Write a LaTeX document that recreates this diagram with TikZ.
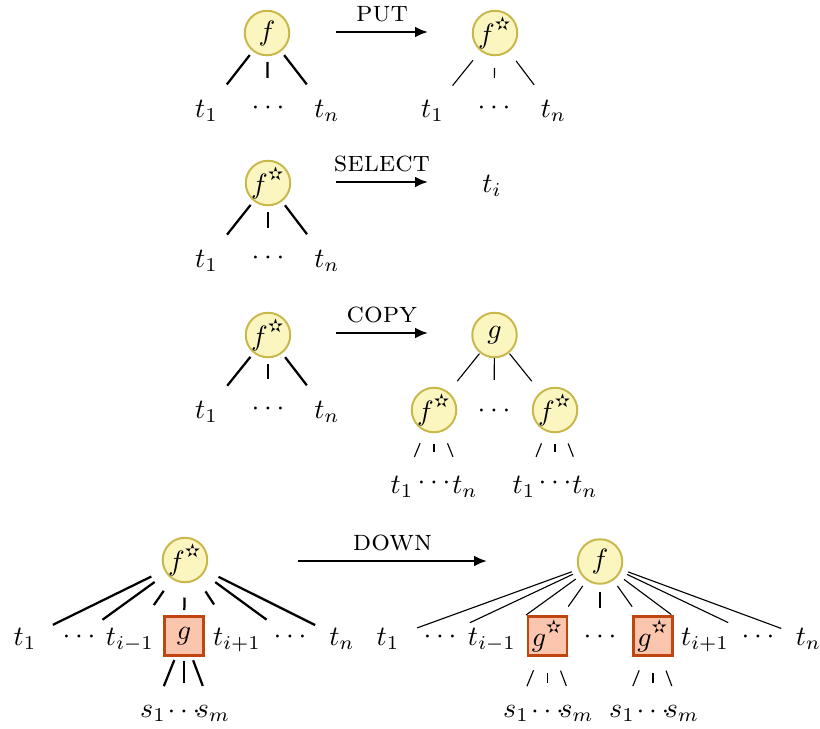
\documentclass[tikz,border=0pt]{standalone}
\usepackage{fontspec}
\usetikzlibrary{calc,arrows.meta}
\newfontfamily\starfont{DejaVu Sans}
\newcommand\st{\mbox{\raisebox{0.8pt}{\starfont\fontsize{6.6}{7}\selectfont ✫}}}
\newcommand\cc[1]{\makebox[0pt]{#1}}
\definecolor{cfill}{HTML}{FBF5C0}
\definecolor{cdraw}{HTML}{C8B84C}
\definecolor{bfill}{HTML}{FCC6AE}
\definecolor{bdraw}{HTML}{C0450E}
\newcommand\tedge[5][]{\draw[#1] ($(#2)!#4*0.3571pt!(#3)$) -- ($(#3)!#5*0.3571pt!(#2)$);}
\tikzset{
  cn/.style={circle, draw=cdraw, fill=cfill, line width=0.7pt, minimum size=15.9pt, inner sep=0.5pt},
  bx/.style={rectangle, draw=bdraw, fill=bfill, line width=0.8pt, minimum width=14pt, minimum height=14pt, inner sep=1pt},
  lab/.style={anchor=base, inner sep=0pt},
  arr/.style={line width=0.95pt, -{Latex[length=4.6pt,width=3.9pt]}},
  oplab/.style={above, inner sep=3pt, font=\fontsize{10.5}{12}\selectfont}
}
\begin{document}
\begin{tikzpicture}[x=0.3571pt,y=-0.3571pt]
\useasboundingbox (0,0) rectangle (820,728);

% ---------- Row 1: PUT ----------
\node[cn] (a1) at (267,33) {\cc{$f$}};
\node[lab] (a1t1) at (206.5,117) {$t_1$};
\node[lab] (a1d) at (268,114) {$\cdots$};
\node[lab] (a1tn) at (327,117) {$t_n$};
\tedge[thick]{a1}{a1t1}{28}{33}
\tedge[thick]{a1}{a1d}{29}{30}
\tedge[thick]{a1}{a1tn}{28}{33}

\coordinate (p1s) at (336,32);
\coordinate (p1e) at (428,32);
\draw[arr] (p1s) -- node[oplab] (putl) {\textsc{put}} (p1e);

\node[cn] (b1) at (495,33) {\cc{$f^{\st}$}};
\node[lab] (b1t1) at (432.5,117) {$t_1$};
\node[lab] (b1d) at (494,114) {$\cdots$};
\node[lab] (b1tn) at (553.5,117) {$t_n$};
\tedge{b1}{b1t1}{35}{32}
\tedge{b1}{b1d}{35}{30}
\tedge{b1}{b1tn}{35}{32}

% ---------- Row 2: SELECT ----------
\node[cn] (a2) at (268,183) {\cc{$f^{\st}$}};
\node[lab] (a2t1) at (206.5,267) {$t_1$};
\node[lab] (a2d) at (268,264) {$\cdots$};
\node[lab] (a2tn) at (327,267) {$t_n$};
\tedge[thick]{a2}{a2t1}{28}{33}
\tedge[thick]{a2}{a2d}{29}{30}
\tedge[thick]{a2}{a2tn}{28}{33}

\coordinate (p2s) at (336,182);
\coordinate (p2e) at (428,182);
\draw[arr] (p2s) -- node[oplab] (sell) {\textsc{select}} (p2e);
\node[lab] (ti) at (492,192) {$t_i$};

% ---------- Row 3: COPY ----------
\node[cn] (a3) at (268,335) {\cc{$f^{\st}$}};
\node[lab] (a3t1) at (206.5,418) {$t_1$};
\node[lab] (a3d) at (268,415) {$\cdots$};
\node[lab] (a3tn) at (327,418) {$t_n$};
\tedge[thick]{a3}{a3t1}{28}{33}
\tedge[thick]{a3}{a3d}{29}{30}
\tedge[thick]{a3}{a3tn}{28}{33}

\coordinate (p3s) at (336,333);
\coordinate (p3e) at (428,333);
\draw[arr] (p3s) -- node[oplab] (copl) {\textsc{copy}} (p3e);

\node[cn] (g3) at (494.5,335) {\cc{$g$}};
\node[cn] (f3l) at (434,410) {\cc{$f^{\st}$}};
\node[lab] (g3d) at (494,417) {$\cdots$};
\node[cn] (f3r) at (555,410) {\cc{$f^{\st}$}};
\tedge{g3}{f3l}{24}{37}
\tedge{g3}{g3d}{23}{31}
\tedge{g3}{f3r}{24}{37}

\node[lab] (l3t1) at (402,493) {$t_1$};
\node[lab] (l3d) at (434,489) {$\cdots$};
\node[lab] (l3tn) at (465,493) {$t_n$};
\tedge{f3l}{l3t1}{36}{32}
\tedge{f3l}{l3d}{34}{31}
\tedge{f3l}{l3tn}{36}{32}

\node[lab] (r3t1) at (524,493) {$t_1$};
\node[lab] (r3d) at (555,489) {$\cdots$};
\node[lab] (r3tn) at (585,493) {$t_n$};
\tedge{f3r}{r3t1}{36}{32}
\tedge{f3r}{r3d}{34}{31}
\tedge{f3r}{r3tn}{36}{32}

% ---------- Row 4: DOWN ----------
\node[cn] (a4) at (185,560) {\cc{$f^{\st}$}};
\node[lab] (a4t1) at (25,645) {$t_1$};
\node[lab] (a4d1) at (79,643) {$\cdots$};
\node[lab] (a4tm) at (130,645) {$t_{i-1}$};
\node[bx]  (a4g) at (184,636) {$g$};
\node[lab] (a4tp) at (237,645) {$t_{i+1}$};
\node[lab] (a4d2) at (290,643) {$\cdots$};
\node[lab] (a4tn) at (342,645) {$t_n$};
\tedge[thick]{a4}{a4t1}{37.5}{31}
\tedge[thick]{a4}{a4d1}{37.5}{29}
\tedge[thick]{a4}{a4tm}{37.5}{42}
\tedge[thick]{a4}{a4g}{37.5}{26}
\tedge[thick]{a4}{a4tp}{37.5}{42}
\tedge[thick]{a4}{a4d2}{37.5}{29}
\tedge[thick]{a4}{a4tn}{37.5}{30}

\node[lab] (a4s1) at (153,717) {$s_1$};
\node[lab] (a4sd) at (184,718) {$\cdots$};
\node[lab] (a4sm) at (213,717) {$s_m$};
\tedge[thick]{a4g}{a4s1}{26}{29}
\tedge[thick]{a4g}{a4sd}{25}{29}
\tedge[thick]{a4g}{a4sm}{26}{29}

\coordinate (p4s) at (298,561);
\coordinate (p4e) at (487,561);
\draw[arr] (p4s) -- node[oplab] (dnl) {\textsc{down}} (p4e);

\node[cn] (b4) at (600,561.5) {\cc{$f$}};
\node[lab] (b4t1) at (388,645) {$t_1$};
\node[lab] (b4d1) at (440,643) {$\cdots$};
\node[lab] (b4tm) at (492,645) {$t_{i-1}$};
\node[bx]  (b4g1) at (547.5,636) {$g^{\st}$};
\node[lab] (b4d2) at (600,643) {$\cdots$};
\node[bx]  (b4g2) at (653,636) {$g^{\st}$};
\node[lab] (b4tp) at (705,645) {$t_{i+1}$};
\node[lab] (b4d3) at (758,643) {$\cdots$};
\node[lab] (b4tn) at (808.5,645) {$t_n$};
\tedge{b4}{b4t1}{30}{31}
\tedge{b4}{b4d1}{30}{33}
\tedge{b4}{b4tm}{30}{42}
\tedge{b4}{b4g1}{30}{36}
\tedge{b4}{b4d2}{30}{29}
\tedge{b4}{b4g2}{30}{36}
\tedge{b4}{b4tp}{30}{42}
\tedge{b4}{b4d3}{30}{33}
\tedge{b4}{b4tn}{30}{29}

\node[lab] (b4s1a) at (516,717) {$s_1$};
\node[lab] (b4sda) at (547.5,718) {$\cdots$};
\node[lab] (b4sma) at (576.5,717) {$s_m$};
\tedge{b4g1}{b4s1a}{37}{29}
\tedge{b4g1}{b4sda}{37}{29}
\tedge{b4g1}{b4sma}{37}{29}

\node[lab] (b4s1b) at (622,717) {$s_1$};
\node[lab] (b4sdb) at (653,718) {$\cdots$};
\node[lab] (b4smb) at (682,717) {$s_m$};
\tedge{b4g2}{b4s1b}{37}{29}
\tedge{b4g2}{b4sdb}{37}{29}
\tedge{b4g2}{b4smb}{37}{29}
\end{tikzpicture}
\end{document}
